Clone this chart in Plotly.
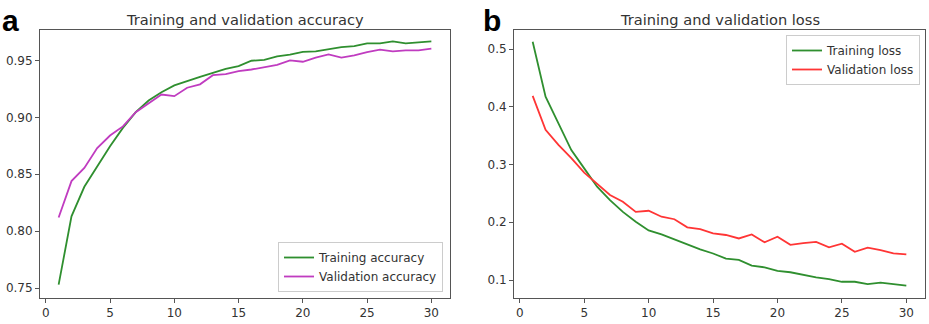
import plotly.graph_objects as go

epochs = list(range(1, 31))

train_acc = [0.753, 0.813, 0.839, 0.857, 0.8746, 0.8907, 0.9045, 0.9148, 0.922, 0.928,
             0.932, 0.9355, 0.939, 0.9425, 0.945, 0.9497, 0.9505, 0.9535, 0.955, 0.9575,
             0.958, 0.960, 0.9617, 0.9626, 0.965, 0.965, 0.9667, 0.965, 0.9656, 0.9667]
val_acc = [0.812, 0.844, 0.8555, 0.873, 0.884, 0.892, 0.9045, 0.912, 0.920, 0.9186,
           0.926, 0.929, 0.937, 0.938, 0.9405, 0.942, 0.944, 0.946, 0.950, 0.9488,
           0.9525, 0.9553, 0.9524, 0.9544, 0.9573, 0.9595, 0.958, 0.9588, 0.9588, 0.9603]

train_loss = [0.5127, 0.4174, 0.3713, 0.325, 0.2934, 0.2616, 0.2385, 0.218, 0.201, 0.186,
              0.179, 0.170, 0.161, 0.153, 0.146, 0.137, 0.135, 0.125, 0.122, 0.116,
              0.1135, 0.1087, 0.1046, 0.1017, 0.097, 0.097, 0.0931, 0.0954, 0.0931, 0.0902]
val_loss = [0.419, 0.360, 0.334, 0.311, 0.286, 0.2674, 0.2472, 0.2356, 0.218, 0.220,
            0.2096, 0.2053, 0.1912, 0.188, 0.181, 0.178, 0.172, 0.179, 0.1653, 0.175,
            0.161, 0.164, 0.1662, 0.1566, 0.163, 0.149, 0.156, 0.152, 0.1462, 0.1445]

x_ticks = [0, 5, 10, 15, 20, 25, 30]
acc_ticks = [0.75, 0.80, 0.85, 0.90, 0.95]
loss_ticks = [0.1, 0.2, 0.3, 0.4, 0.5]

W, H = 929, 324
GREEN = "#2f8f2f"
MAGENTA = "#c03cc0"
RED = "#ff3535"
AXC = "#555555"
TXT = "#333333"
FONT = "DejaVu Sans"

fig = go.Figure()
fig.add_trace(go.Scatter(x=epochs, y=train_acc, mode="lines", name="Training accuracy",
                         line=dict(color=GREEN, width=1.8), xaxis="x", yaxis="y", legend="legend"))
fig.add_trace(go.Scatter(x=epochs, y=val_acc, mode="lines", name="Validation accuracy",
                         line=dict(color=MAGENTA, width=1.8), xaxis="x", yaxis="y", legend="legend"))
fig.add_trace(go.Scatter(x=epochs, y=train_loss, mode="lines", name="Training loss",
                         line=dict(color=GREEN, width=1.8), xaxis="x2", yaxis="y2", legend="legend2"))
fig.add_trace(go.Scatter(x=epochs, y=val_loss, mode="lines", name="Validation loss",
                         line=dict(color=RED, width=1.8), xaxis="x2", yaxis="y2", legend="legend2"))

ydom = [1 - 298 / H, 1 - 30 / H]
axis_common = dict(showline=True, mirror=True, linecolor=AXC, linewidth=1, showgrid=False,
                   zeroline=False, ticks="outside", ticklen=4, tickcolor=AXC, tickwidth=1,
                   tickfont=dict(family=FONT, size=12, color=TXT))

fig.update_layout(
    width=W, height=H, margin=dict(l=0, r=0, t=0, b=0),
    paper_bgcolor="white", plot_bgcolor="white",
    xaxis=dict(domain=[40 / W, 450 / W], range=[-0.45, 31.45], tickvals=x_ticks, anchor="y", **axis_common),
    yaxis=dict(domain=ydom, range=[0.7413, 0.9767], tickvals=acc_ticks, tickformat=".2f", anchor="x", **axis_common),
    xaxis2=dict(domain=[514 / W, 925 / W], range=[-0.45, 31.45], tickvals=x_ticks, anchor="y2", **axis_common),
    yaxis2=dict(domain=ydom, range=[0.0689, 0.533], tickvals=loss_ticks, tickformat=".1f", anchor="x2", **axis_common),
    legend=dict(x=443 / W, y=1 - 292 / H, xanchor="right", yanchor="bottom",
                bgcolor="white", bordercolor="#cccccc", borderwidth=1,
                font=dict(family=FONT, size=12, color=TXT), tracegroupgap=0),
    legend2=dict(x=920 / W, y=1 - 35 / H, xanchor="right", yanchor="top",
                 bgcolor="white", bordercolor="#cccccc", borderwidth=1,
                 font=dict(family=FONT, size=12, color=TXT), tracegroupgap=0),
    showlegend=True,
)

fig.add_annotation(text="Training and validation accuracy", x=(40 + 450) / 2 / W, y=1 - 19 / H,
                   xref="paper", yref="paper", showarrow=False, xanchor="center", yanchor="middle",
                   font=dict(family=FONT, size=14.6, color=TXT))
fig.add_annotation(text="Training and validation loss", x=(514 + 925) / 2 / W, y=1 - 19 / H,
                   xref="paper", yref="paper", showarrow=False, xanchor="center", yanchor="middle",
                   font=dict(family=FONT, size=14.6, color=TXT))
fig.add_annotation(text="<b>a</b>", x=0 / W, y=1 - 2 / H, xref="paper", yref="paper", showarrow=False,
                   xanchor="left", yanchor="top", font=dict(family="Liberation Sans", size=30, color="black"))
fig.add_annotation(text="<b>b</b>", x=481 / W, y=1 - 2 / H, xref="paper", yref="paper", showarrow=False,
                   xanchor="left", yanchor="top", font=dict(family="Liberation Sans", size=30, color="black"))

fig.write_html("out.html")
